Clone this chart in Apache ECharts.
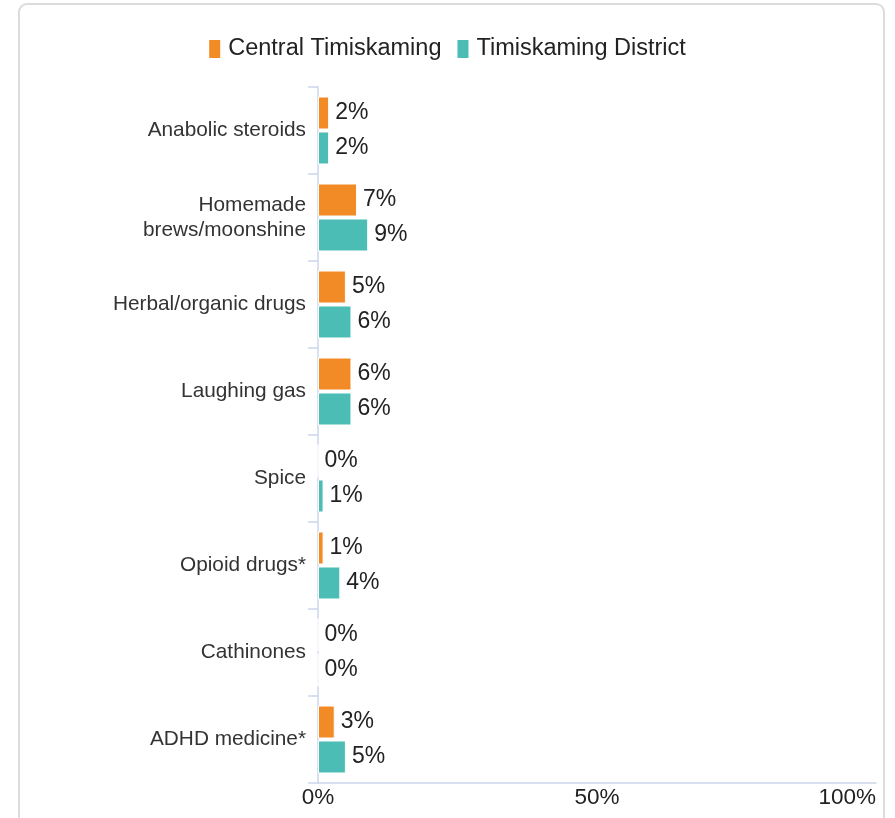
<!DOCTYPE html>
<html>
<head>
<meta charset="utf-8">
<script src="https://cdn.jsdelivr.net/npm/echarts@6/dist/echarts.min.js"></script>
<style>
	html, body { margin: 0; padding: 0; background: #fff; }
	#chart { width: 895px; height: 818px; }
</style>
</head>
<body>
<div id="chart"></div>
<script>
var categories = [
	'Anabolic steroids',
	'Homemade\nbrews/moonshine',
	'Herbal/organic drugs',
	'Laughing gas',
	'Spice',
	'Opioid drugs*',
	'Cathinones',
	'ADHD medicine*'
];
var centralValues = [2, 7, 5, 6, 0, 1, 0, 3];
var districtValues = [2, 9, 6, 6, 1, 4, 0, 5];
var seriesNames = ['Central Timiskaming', 'Timiskaming District'];
var xTicks = [0, 50, 100];

var fontFamily = '"Liberation Sans", Arial, sans-serif';
var axisColor = '#ccd6eb';

var myChart = echarts.init(document.getElementById('chart'));

var labelOpt = {
	show: true,
	position: 'right',
	distance: 6,
	formatter: '{c}%',
	fontSize: 23,
	color: '#222',
	fontFamily: fontFamily
};

var option = {
	animation: false,
	textStyle: { fontFamily: fontFamily },
	// light rounded frame round the chart
	graphic: [{
		type: 'rect',
		shape: { x: 19, y: 4, width: 865, height: 830, r: 8 },
		style: { fill: 'none', stroke: '#dcdcdc', lineWidth: 2 },
		silent: true
	}],
	legend: {
		top: 32,
		left: 'center',
		icon: 'rect',
		itemWidth: 11,
		itemHeight: 18,
		itemGap: 16,
		itemStyle: { borderWidth: 0 },
		textStyle: { fontSize: 23.5, color: '#222', fontFamily: fontFamily, padding: [0, 0, 0, 3] },
		data: seriesNames
	},
	grid: {
		left: 318,
		right: 19,
		top: 87,
		bottom: 35,
		containLabel: false
	},
	xAxis: {
		type: 'value',
		min: xTicks[0],
		max: xTicks[xTicks.length - 1],
		interval: xTicks[1] - xTicks[0],
		axisLine: { show: true, lineStyle: { color: axisColor, width: 1.5 } },
		axisTick: { show: false },
		splitLine: { show: false },
		axisLabel: {
			formatter: '{value}%',
			fontSize: 22.5,
			color: '#222',
			margin: 3,
			alignMaxLabel: 'right'
		}
	},
	yAxis: {
		type: 'category',
		inverse: true,
		data: categories,
		axisLine: { show: true, lineStyle: { color: axisColor, width: 1.5 } },
		axisTick: { show: true, length: 10, lineStyle: { color: axisColor, width: 1.5 } },
		axisLabel: {
			fontSize: 20.8,
			color: '#333',
			margin: 12,
			lineHeight: 25,
			align: 'right'
		}
	},
	series: [{
		name: seriesNames[0],
		type: 'bar',
		data: centralValues,
		barWidth: 33,
		barGap: '6%',
		itemStyle: { color: '#f28a26', borderColor: '#fff', borderWidth: 1 },
		label: labelOpt
	}, {
		name: seriesNames[1],
		type: 'bar',
		data: districtValues,
		barWidth: 33,
		barGap: '6%',
		itemStyle: { color: '#4bbdb4', borderColor: '#fff', borderWidth: 1 },
		label: labelOpt
	}]
};

option && myChart.setOption(option, true);
</script>
</body>
</html>
